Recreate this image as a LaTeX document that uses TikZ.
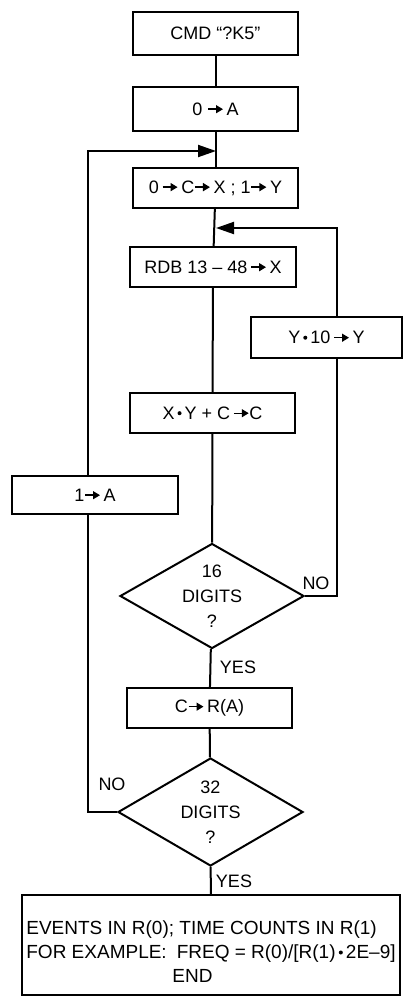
\documentclass[tikz,border=0pt]{standalone}
\usepackage{fontspec}
\setmainfont{Liberation Sans}
\usetikzlibrary{shapes.geometric,arrows.meta}

\tikzset{every path/.style={line width=2pt}}
\tikzset{box/.style={draw,rectangle,inner sep=0pt,align=center,font=\fontsize{18}{25}\selectfont}}
\tikzset{test/.style={draw,diamond,aspect=1.75,inner sep=0pt,align=center,font=\fontsize{18}{25}\selectfont}}
\tikzset{lbl/.style={inner sep=0pt,font=\fontsize{18}{22}\selectfont}}
\tikzset{flow/.style={-{Triangle[length=18pt,width=12pt]}}}

\newcommand{\toarr}{\tikz[x=1pt,y=1pt,baseline=-6pt]\draw[line width=1.4pt,-{Triangle[length=7pt,width=8pt]}] (0,0) -- (15,0);}
\newcommand{\tdot}{\,\tikz[x=1pt,y=1pt,baseline=-6pt]\fill (0,0) circle[radius=2pt];\,}

\begin{document}
\begin{tikzpicture}[x=1pt,y=-1pt]
\useasboundingbox (0,0) rectangle (404,996);

% main column
\node[box,minimum width=165pt,minimum height=43pt] (cmd) at (215.5,33.5) {CMD “?K5”};
\node[box,minimum width=165pt,minimum height=44pt] (zeroA) at (215.5,109) {0\;\toarr\,A};
\node[box,minimum width=165pt,minimum height=40pt] (init) at (215.5,188) {0\,\toarr\,C\toarr\,X ; 1\toarr\,Y};
\node[box,minimum width=166pt,minimum height=40pt] (rdb) at (213,267) {RDB 13 -- 48\,\toarr\,X};
\node[box,minimum width=151pt,minimum height=41pt] (mulY) at (326.5,337.5) {Y\tdot 10\,\toarr\,Y};
\node[box,minimum width=165pt,minimum height=40pt] (acc) at (212.5,413) {X\tdot Y + C\,\toarr C};
\node[box,minimum width=166pt,minimum height=38pt] (oneA) at (95,495) {1\toarr\,A};
\node[test,minimum width=184pt,minimum height=105pt] (dig16) at (212,596) {16\\DIGITS\\?};
\node[box,minimum width=165pt,minimum height=40pt] (store) at (209.5,708) {C\toarr\,R(A)};
\node[test,minimum width=185pt,minimum height=108pt] (dig32) at (210.5,812) {32\\DIGITS\\?};
\node[box,minimum width=378pt,minimum height=100pt,align=left,font=\fontsize{19}{24}\selectfont] (result) at (211,945)
  {\rule{0pt}{27pt}EVENTS IN R(0); TIME COUNTS IN R(1)\\FOR EXAMPLE:\hspace{10pt}FREQ = R(0)/[R(1)\tdot 2E--9]\\\hspace*{146pt}END};

% labels
\node[lbl] (no16) at (316,583) {NO};
\node[lbl] (yes16) at (238,667) {YES};
\node[lbl] (no32) at (112,784) {NO};
\node[lbl] (yes32) at (234,881) {YES};

% junctions
\coordinate (j1) at (216,151);
\coordinate (j2) at (216,228);
\coordinate (lt) at (88,151);
\coordinate (rt) at (337,228);

\draw (cmd) -- (zeroA);
\draw (zeroA) -- (init);
\draw (init) -- (rdb);
\draw (rdb) -- (acc);
\draw (acc) -- (dig16);
\draw (dig16) -- (store);
\draw (store) -- (dig32);
\draw (dig32) -- (result);

% loops
\draw (dig16.east) -| (mulY.south -| rt);
\draw[flow] (mulY.north -| rt) |- (j2);
\draw (dig32.west) -| (oneA.south -| lt);
\draw[flow] (oneA.north -| lt) |- (j1);

\end{tikzpicture}
\end{document}
